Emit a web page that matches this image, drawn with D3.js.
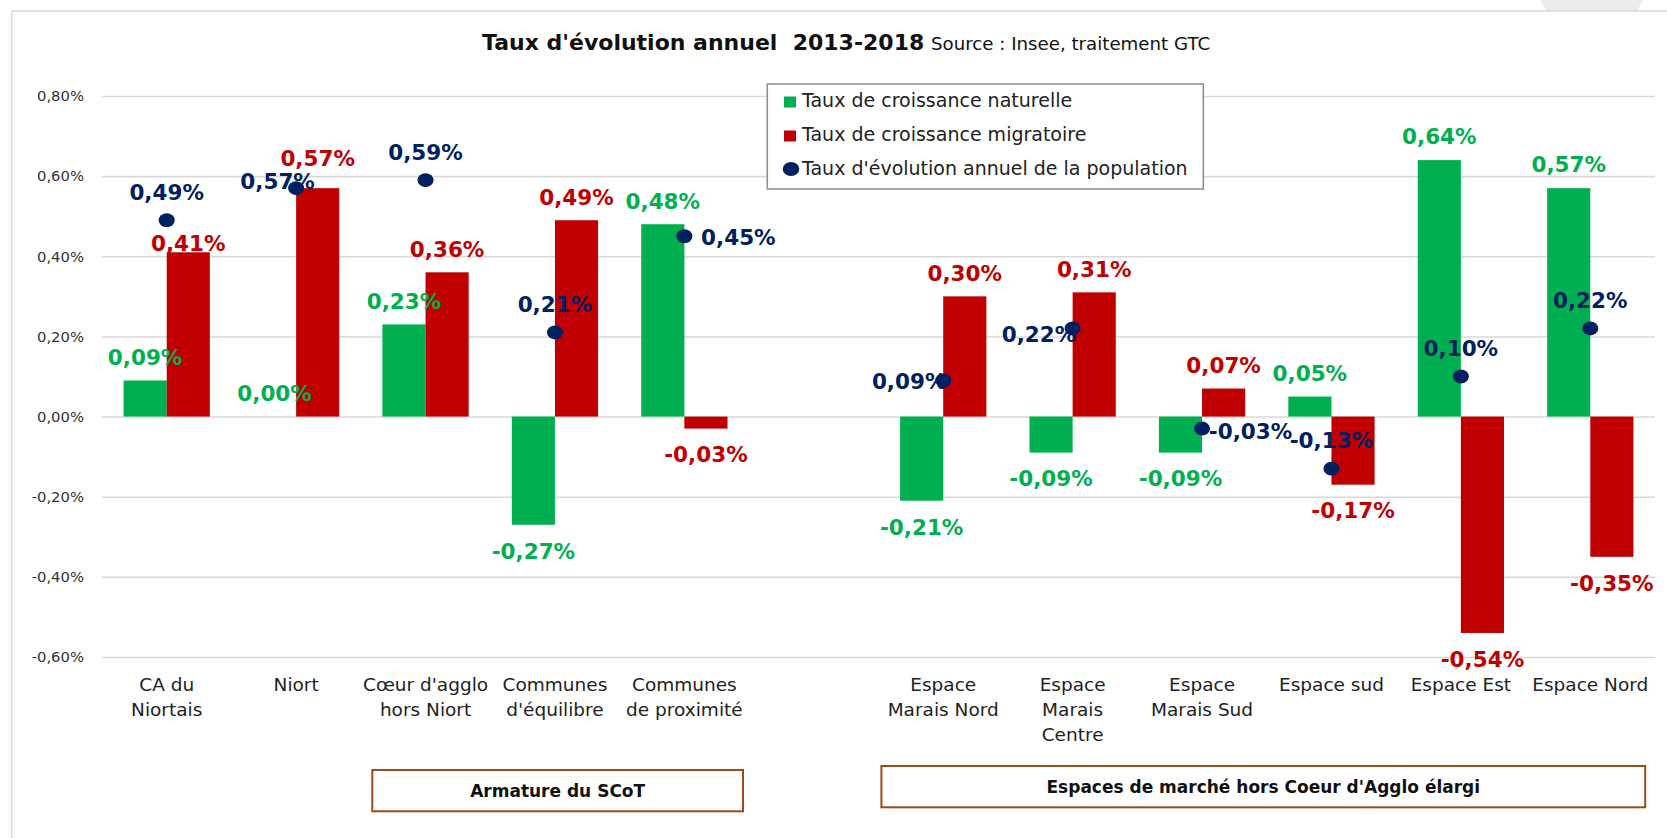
<!DOCTYPE html>
<html>
<head>
<meta charset="utf-8">
<script src="https://cdn.jsdelivr.net/npm/d3@7"></script>
<style>
  html, body { margin: 0; padding: 0; background: #fff; }
  svg { display: block; font-family: "DejaVu Sans", sans-serif; }
  text { white-space: pre; }
</style>
</head>
<body>
<svg id="chart" width="1667" height="838"></svg>
<script>
// ---------------- DATA ----------------
const categories = [
  "CA du\nNiortais", "Niort", "Cœur d'agglo\nhors Niort", "Communes\nd'équilibre", "Communes\nde proximité",
  "",
  "Espace\nMarais Nord", "Espace\nMarais\nCentre", "Espace\nMarais Sud", "Espace sud", "Espace Est", "Espace Nord"
];
const natural    = [0.09, 0.00, 0.23, -0.27, 0.48, null, -0.21, -0.09, -0.09, 0.05, 0.64, 0.57];
const migratory  = [0.41, 0.57, 0.36, 0.49, -0.03, null, 0.30, 0.31, 0.07, -0.17, -0.54, -0.35];
const population = [0.49, 0.57, 0.59, 0.21, 0.45, null, 0.09, 0.22, -0.03, -0.13, 0.10, 0.22];
const yTicks = [-0.6, -0.4, -0.2, 0, 0.2, 0.4, 0.6, 0.8];
const seriesNames = [
  "Taux de croissance naturelle",
  "Taux de croissance migratoire",
  "Taux d'évolution annuel de la population"
];
const groupNames = ["Armature du SCoT", "Espaces de marché hors Coeur d'Agglo élargi"];
const titleMain = "Taux d'évolution annuel  2013-2018";
const titleSource = "Source : Insee, traitement GTC";

// ---------------- STYLE / LAYOUT ----------------
const COLORS = { nat: "#00B050", mig: "#C00000", pop: "#002060" };
const PLOT = { left: 102, right: 1655, top: 96, bottom: 657 };
// manual label nudges (as in the original, some labels were dragged)
const barLabelNudge = { "mig-0": 14, "mig-1": -6 };            // dy in px
const popLabelPos = {                                            // dx, dy relative to dot centre
  1: [-18.5, -7.3], 4: [54, 0.7], 6: [-34, 1], 7: [-33.6, 5.3], 8: [48.5, 2.6]
};

const fmt = v => (v < 0 ? "-" : "") + Math.abs(v).toFixed(2).replace(".", ",") + "%";

const svg = d3.select("#chart");

// outer frame
svg.append("path")
  .attr("d", "M1540,0 L1643,0 L1637,11 L1547,11 Z")
  .attr("fill", "#ececec");
svg.append("line").attr("x1", 11.5).attr("x2", 1667).attr("y1", 11).attr("y2", 11)
  .attr("stroke", "#d9d9d9").attr("stroke-width", 1.5);
svg.append("line").attr("x1", 11.7).attr("x2", 11.7).attr("y1", 11).attr("y2", 838)
  .attr("stroke", "#d9d9d9").attr("stroke-width", 1.5);

// title
svg.append("text").attr("x", 482).attr("y", 50)
  .attr("font-size", 22).attr("font-weight", "bold").attr("fill", "#111")
  .text(titleMain);
svg.append("text").attr("x", 931).attr("y", 50)
  .attr("font-size", 18.2).attr("fill", "#111")
  .text(titleSource);

// scales
const x = d3.scaleBand().domain(d3.range(categories.length))
  .range([PLOT.left, PLOT.right]).paddingInner(0).paddingOuter(0);
const xs = d3.scaleBand().domain(["nat", "mig"]).range([0, x.bandwidth()])
  .paddingInner(0).paddingOuter(0.5);
const y = d3.scaleLinear().domain([-0.6, 0.8]).range([PLOT.bottom, PLOT.top]);

// y axis + gridlines
const yAxis = svg.append("g").attr("transform", `translate(${PLOT.left},0)`)
  .call(d3.axisLeft(y).tickValues(yTicks).tickFormat(fmt)
    .tickSize(-(PLOT.right - PLOT.left)).tickPadding(18));
yAxis.select(".domain").remove();
yAxis.selectAll(".tick line").attr("stroke", "#d9d9d9").attr("stroke-width", 1.6);
yAxis.selectAll(".tick text").attr("font-size", 14.8).attr("fill", "#333")
  .attr("font-family", "DejaVu Sans");

// category axis
const xAxis = svg.append("g").attr("transform", `translate(0,${PLOT.bottom})`)
  .call(d3.axisBottom(x).tickSize(0).tickFormat(i => categories[i]));
xAxis.select(".domain").remove();
xAxis.selectAll(".tick text").each(function (i) {
  const t = d3.select(this);
  const lines = categories[i].split("\n");
  t.text(null).attr("y", 0).attr("dy", null)
    .attr("font-size", 18.5).attr("fill", "#222").attr("font-family", "DejaVu Sans");
  lines.forEach((ln, k) => {
    t.append("tspan").attr("x", 0).attr("y", 33.5 + k * 25).text(ln);
  });
});

// bars
const idx = d3.range(categories.length);
const series = [
  { key: "nat", values: natural },
  { key: "mig", values: migratory }
];
series.forEach(s => {
  svg.append("g").selectAll("rect")
    .data(idx.filter(i => s.values[i] !== null))
    .join("rect")
    .attr("x", i => x(i) + xs(s.key))
    .attr("width", xs.bandwidth())
    .attr("y", i => Math.min(y(s.values[i]), y(0)))
    .attr("height", i => Math.abs(y(s.values[i]) - y(0)))
    .attr("fill", COLORS[s.key]);
});

// population dots
svg.append("g").selectAll("ellipse")
  .data(idx.filter(i => population[i] !== null))
  .join("ellipse")
  .attr("cx", i => x(i) + x.bandwidth() / 2)
  .attr("cy", i => y(population[i]))
  .attr("rx", 8).attr("ry", 7)
  .attr("fill", COLORS.pop);

// bar labels
const LBL = 21.5;
series.forEach(s => {
  svg.append("g").selectAll("text")
    .data(idx.filter(i => s.values[i] !== null))
    .join("text")
    .attr("x", i => x(i) + xs(s.key) + xs.bandwidth() / 2)
    .attr("y", i => {
      const v = s.values[i];
      const nudge = barLabelNudge[s.key + "-" + i] || 0;
      return (v >= 0 ? y(v) - 23.5 + 7.8 : y(v) + 26 + 7.8) + nudge;
    })
    .attr("text-anchor", "middle")
    .attr("font-size", LBL).attr("font-weight", "bold")
    .attr("fill", COLORS[s.key])
    .text(i => fmt(s.values[i]));
});

// population labels
svg.append("g").selectAll("text")
  .data(idx.filter(i => population[i] !== null))
  .join("text")
  .attr("x", i => x(i) + x.bandwidth() / 2 + (popLabelPos[i] ? popLabelPos[i][0] : 0))
  .attr("y", i => y(population[i]) + (popLabelPos[i] ? popLabelPos[i][1] : -28) + 7.8)
  .attr("text-anchor", "middle")
  .attr("font-size", LBL).attr("font-weight", "bold")
  .attr("fill", COLORS.pop)
  .text(i => fmt(population[i]));

// legend
const lg = svg.append("g");
lg.append("rect").attr("x", 767.3).attr("y", 84).attr("width", 436).attr("height", 105)
  .attr("fill", "#fff").attr("stroke", "#8c8c8c").attr("stroke-width", 1.5);
const legendKeys = ["nat", "mig", "pop"];
legendKeys.forEach((k, r) => {
  const base = 107 + r * 34;
  if (k === "pop") {
    lg.append("ellipse").attr("cx", 791).attr("cy", base - 6).attr("rx", 8.3).attr("ry", 7)
      .attr("fill", COLORS[k]);
  } else {
    lg.append("rect").attr("x", 784).attr("y", base - 10.5).attr("width", 12).attr("height", 11)
      .attr("fill", COLORS[k]);
  }
  lg.append("text").attr("x", 802).attr("y", base)
    .attr("font-size", 19).attr("fill", "#222").text(seriesNames[r]);
});

// group boxes
const boxes = [
  { x: 372.3, y: 770, w: 370.7, h: 41.3 },
  { x: 881.4, y: 766, w: 763.8, h: 41.3 }
];
boxes.forEach((b, i) => {
  svg.append("rect").attr("x", b.x).attr("y", b.y).attr("width", b.w).attr("height", b.h)
    .attr("fill", "#fff").attr("stroke", "#9E4A16").attr("stroke-width", 2);
  svg.append("text").attr("x", b.x + b.w / 2).attr("y", b.y + b.h / 2 + 6.3)
    .attr("text-anchor", "middle").attr("font-size", 17).attr("font-weight", "bold")
    .attr("fill", "#111").text(groupNames[i]);
});
</script>
</body>
</html>
